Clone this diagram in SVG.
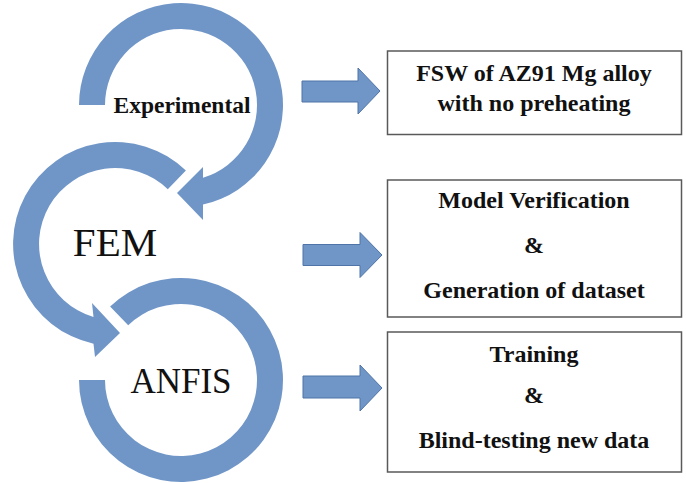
<svg xmlns="http://www.w3.org/2000/svg" width="686" height="483" viewBox="0 0 686 483">
<style>
.ring{fill:#7096c8}
.blk{fill:#7096c8;stroke:#4f74a8;stroke-width:1}
.box{fill:#fff;stroke:#595959;stroke-width:1.5}
.bt{font-family:"Liberation Serif","Times New Roman",serif;font-weight:bold;font-size:24px;fill:#111;text-anchor:middle}
.rt{font-family:"Liberation Serif","Times New Roman",serif;fill:#111;text-anchor:middle}
</style>
<rect width="686" height="483" fill="#fff"/>
<g id="experimental">
<path class="ring" d="M79,105 A102,102 0 1 1 203,204.6 L203,220 L177,193 L203,167 L203,177.7 A76,76 0 1 0 105,105 Z"/>
<text class="bt" x="182" y="113" style="font-size:23.5px">Experimental</text>
</g>
<g id="fem">
<path class="ring" d="M185.9,170.6 A102,102 0 1 0 93.5,343.7 L95,357 L120,333 L92,303 L93.5,316.9 A76,76 0 1 1 167.8,189.3 Z"/>
<text class="rt" x="115" y="256" style="font-size:41px">FEM</text>
</g>
<g id="anfis">
<path class="ring" d="M110.1,306.6 A102,102 0 1 1 79,380 L105,380 A76,76 0 1 0 128.2,325.3 Z"/>
<text class="rt" x="181" y="393" style="font-size:35px">ANFIS</text>
</g>
<g id="connectors">
<path class="blk" d="M302,81 H358 V68 L380,91 L358,114 V102 H302 Z"/>
<path class="blk" d="M303,244.5 H360 V232.5 L382,255 L360,277.5 V265.5 H303 Z"/>
<path class="blk" d="M303,376 H360 V365 L382,388 L360,411 V398 H303 Z"/>
</g>
<g id="box1">
<rect class="box" x="387.5" y="51" width="294" height="83.5"/>
<text class="bt" x="534" y="81">FSW of AZ91 Mg alloy</text>
<text class="bt" x="534" y="111">with no preheating</text>
</g>
<g id="box2">
<rect class="box" x="387.5" y="180" width="294" height="137"/>
<text class="bt" x="534" y="208">Model Verification</text>
<text class="bt" x="534" y="253">&amp;</text>
<text class="bt" x="534" y="298">Generation of dataset</text>
</g>
<g id="box3">
<rect class="box" x="387.5" y="332" width="294" height="140"/>
<text class="bt" x="534" y="362">Training</text>
<text class="bt" x="534" y="403">&amp;</text>
<text class="bt" x="534" y="448">Blind-testing new data</text>
</g>
</svg>
